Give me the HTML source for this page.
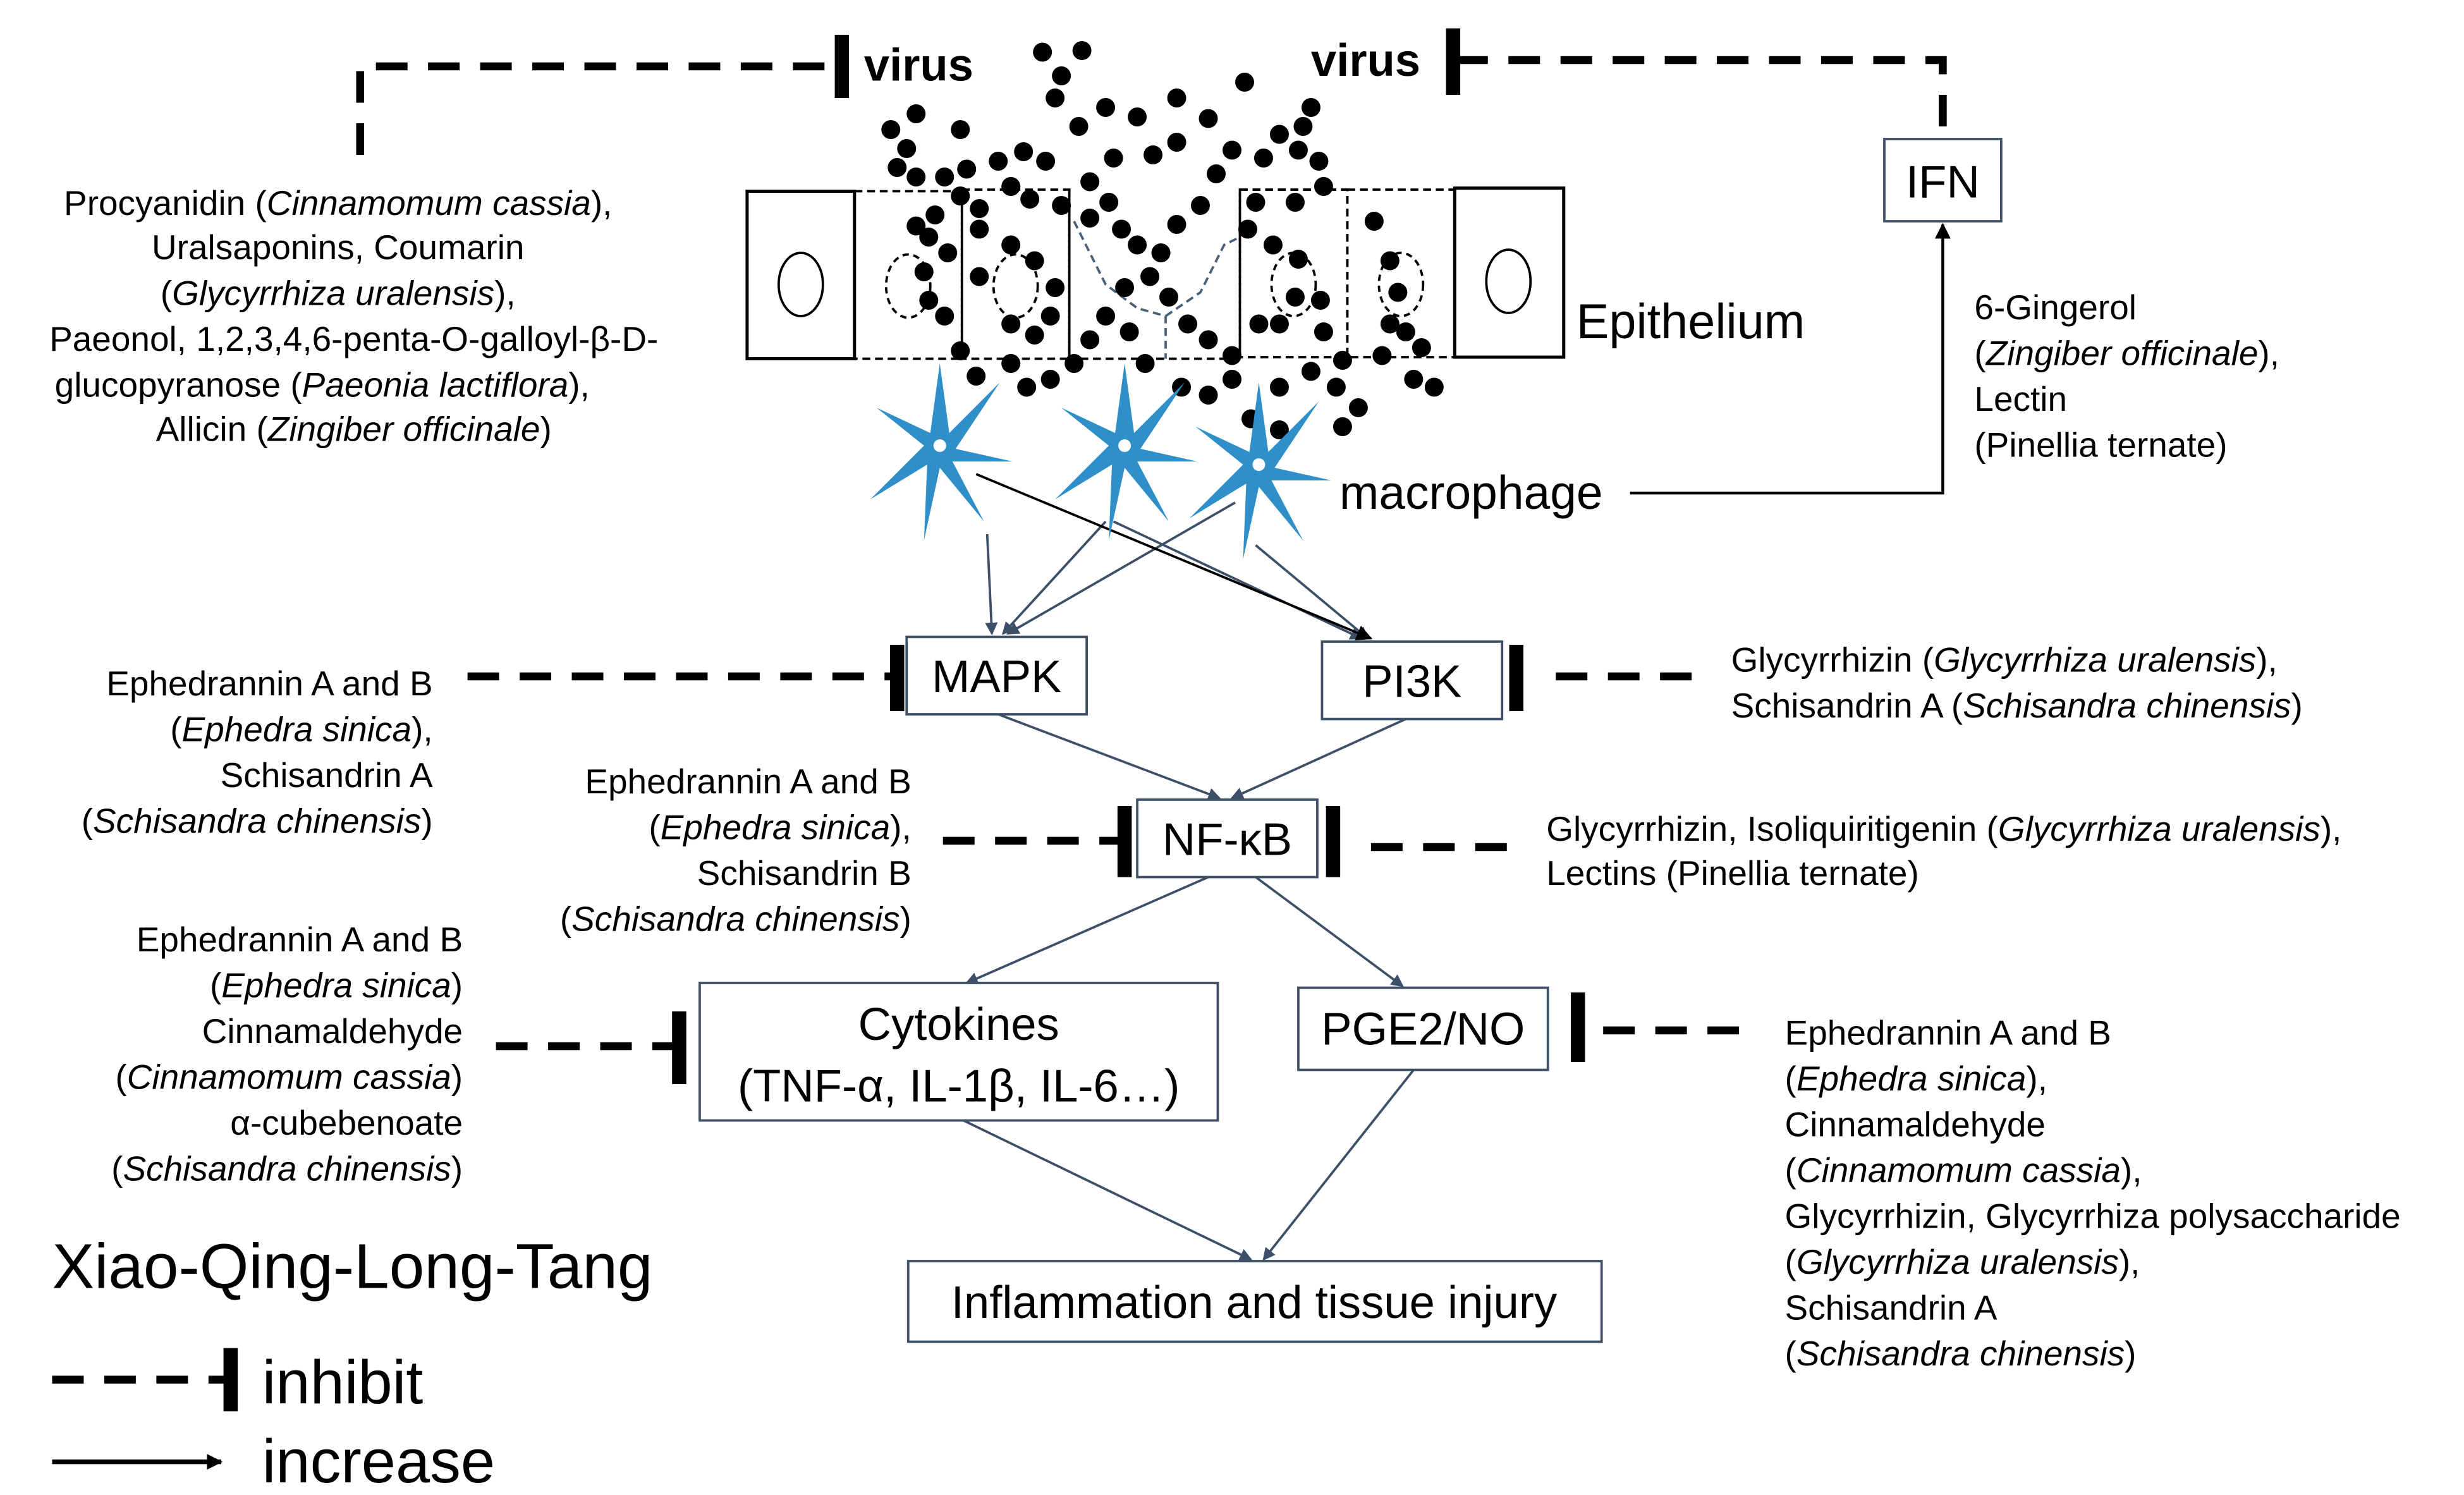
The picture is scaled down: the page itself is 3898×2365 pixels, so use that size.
<!DOCTYPE html>
<html><head><meta charset="utf-8"><style>
html,body{margin:0;padding:0;background:#fff;}
svg{display:block;}
text{font-family:"Liberation Sans",sans-serif;fill:#000;}
</style></head><body>
<svg width="3898" height="2365" viewBox="0 0 1560 946" preserveAspectRatio="none" xmlns="http://www.w3.org/2000/svg">
<defs>
<marker id="ah" markerWidth="8" markerHeight="8" refX="7" refY="4" orient="auto" markerUnits="userSpaceOnUse"><path d="M0,0 L8,4 L0,8 Z" fill="#3d5068"/></marker>
<marker id="ak" markerWidth="10" markerHeight="10" refX="9" refY="5" orient="auto" markerUnits="userSpaceOnUse"><path d="M0,0 L10,5 L0,10 Z" fill="#000"/></marker>
<g id="star">
<path d="M0,-52 L6,-8 L38,-40 L10,2 L46,10 L8,10 L28,48 L0,14 L-10,60 L-8,12 L-44,34 L-10,0 L-40,-24 L-6,-8 Z" fill="#2e8fc9"/>
<circle r="4" fill="#fff"/>
</g>
</defs>
<g stroke="#000" stroke-width="5" fill="none" stroke-dasharray="20,13">
<path d="M228,98 L228,42 L530,42"/>
<path d="M922,38 L1230,38 L1230,90"/>
<path d="M296,428 L565,428"/>
<path d="M985,428 L1080,428"/>
<path d="M597,532 L712,532"/>
<path d="M868,536 L962,536"/>
<path d="M314,662 L428,662"/>
<path d="M1015,652 L1110,652"/>
<path d="M33,873 L142,873"/>
</g>
<g stroke="#000" stroke-width="9">
<line x1="533" y1="22" x2="533" y2="62"/>
<line x1="920" y1="18" x2="920" y2="60"/>
<line x1="568" y1="408" x2="568" y2="450"/>
<line x1="960" y1="408" x2="960" y2="450"/>
<line x1="712" y1="510" x2="712" y2="555"/>
<line x1="844" y1="510" x2="844" y2="555"/>
<line x1="430" y1="640" x2="430" y2="686"/>
<line x1="999" y1="628" x2="999" y2="672"/>
<line x1="146" y1="853" x2="146" y2="893"/>
</g>
<text x="547" y="51" font-size="29" font-weight="bold">virus</text>
<text x="830" y="48" font-size="29" font-weight="bold">virus</text>
<g fill="none" stroke="#000">
<rect x="473" y="121" width="68" height="106" stroke-width="2"/>
<rect x="921" y="119" width="69" height="107" stroke-width="2"/>
<g stroke-dasharray="5,3" stroke-width="1.5">
<rect x="541" y="121" width="68" height="106"/>
<rect x="609" y="120" width="68" height="107"/>
<path d="M677,210 L677,227 L785,227 L785,120 L853,120 L853,226 L921,226 L921,119"/>
<path d="M853,120 L921,120"/>
<rect x="785" y="120" width="68" height="106"/>
<path d="M677,120 L677,227" />
</g>
<ellipse cx="507" cy="180" rx="14" ry="20" stroke-width="1.5"/>
<ellipse cx="955" cy="178" rx="14" ry="20" stroke-width="1.5"/>
<g stroke-dasharray="4,3" stroke-width="1.5">
<ellipse cx="575" cy="181" rx="14" ry="20"/>
<ellipse cx="643" cy="181" rx="14" ry="20"/>
<ellipse cx="819" cy="180" rx="14" ry="20"/>
<ellipse cx="887" cy="180" rx="14" ry="20"/>
</g>
<path d="M680,140 L700,180 L720,195 L738,200 L738,227" stroke="#4a5f78" stroke-dasharray="5,3" stroke-width="1.5"/>
<path d="M738,200 L760,185 L775,155 L785,150" stroke="#4a5f78" stroke-dasharray="5,3" stroke-width="1.5"/>
</g>
<text x="998" y="214" font-size="31">Epithelium</text>
<g fill="#000">
<circle cx="660" cy="33" r="6"/><circle cx="685" cy="32" r="6"/><circle cx="672" cy="48" r="6"/><circle cx="668" cy="62" r="6"/><circle cx="580" cy="72" r="6"/><circle cx="564" cy="82" r="6"/><circle cx="574" cy="94" r="6"/><circle cx="568" cy="106" r="6"/><circle cx="580" cy="112" r="6"/><circle cx="608" cy="82" r="6"/><circle cx="683" cy="80" r="6"/><circle cx="700" cy="68" r="6"/><circle cx="720" cy="74" r="6"/><circle cx="745" cy="62" r="6"/><circle cx="765" cy="75" r="6"/><circle cx="788" cy="52" r="6"/><circle cx="745" cy="90" r="6"/><circle cx="730" cy="98" r="6"/><circle cx="705" cy="100" r="6"/><circle cx="690" cy="115" r="6"/><circle cx="662" cy="102" r="6"/><circle cx="648" cy="96" r="6"/><circle cx="632" cy="102" r="6"/><circle cx="612" cy="107" r="6"/><circle cx="598" cy="112" r="6"/><circle cx="608" cy="124" r="6"/><circle cx="620" cy="132" r="6"/><circle cx="640" cy="118" r="6"/><circle cx="652" cy="126" r="6"/><circle cx="672" cy="130" r="6"/><circle cx="690" cy="138" r="6"/><circle cx="702" cy="128" r="6"/><circle cx="710" cy="145" r="6"/><circle cx="720" cy="155" r="6"/><circle cx="735" cy="160" r="6"/><circle cx="745" cy="142" r="6"/><circle cx="760" cy="130" r="6"/><circle cx="770" cy="110" r="6"/><circle cx="780" cy="95" r="6"/><circle cx="800" cy="100" r="6"/><circle cx="810" cy="85" r="6"/><circle cx="825" cy="80" r="6"/><circle cx="830" cy="68" r="6"/><circle cx="822" cy="95" r="6"/><circle cx="835" cy="102" r="6"/><circle cx="838" cy="118" r="6"/><circle cx="820" cy="128" r="6"/><circle cx="795" cy="128" r="6"/><circle cx="790" cy="145" r="6"/><circle cx="806" cy="155" r="6"/><circle cx="822" cy="164" r="6"/><circle cx="820" cy="188" r="6"/><circle cx="836" cy="190" r="6"/><circle cx="838" cy="210" r="6"/><circle cx="850" cy="228" r="6"/><circle cx="846" cy="245" r="6"/><circle cx="860" cy="258" r="6"/><circle cx="850" cy="270" r="6"/><circle cx="810" cy="272" r="6"/><circle cx="792" cy="265" r="6"/><circle cx="810" cy="245" r="6"/><circle cx="780" cy="240" r="6"/><circle cx="765" cy="215" r="6"/><circle cx="752" cy="205" r="6"/><circle cx="740" cy="188" r="6"/><circle cx="728" cy="175" r="6"/><circle cx="712" cy="182" r="6"/><circle cx="700" cy="200" r="6"/><circle cx="690" cy="215" r="6"/><circle cx="680" cy="230" r="6"/><circle cx="665" cy="240" r="6"/><circle cx="650" cy="245" r="6"/><circle cx="640" cy="230" r="6"/><circle cx="618" cy="238" r="6"/><circle cx="608" cy="222" r="6"/><circle cx="598" cy="200" r="6"/><circle cx="585" cy="172" r="6"/><circle cx="588" cy="150" r="6"/><circle cx="592" cy="136" r="6"/><circle cx="580" cy="143" r="6"/><circle cx="588" cy="190" r="6"/><circle cx="600" cy="160" r="6"/><circle cx="620" cy="175" r="6"/><circle cx="620" cy="145" r="6"/><circle cx="640" cy="155" r="6"/><circle cx="655" cy="165" r="6"/><circle cx="668" cy="182" r="6"/><circle cx="665" cy="200" r="6"/><circle cx="655" cy="212" r="6"/><circle cx="640" cy="205" r="6"/><circle cx="715" cy="210" r="6"/><circle cx="725" cy="230" r="6"/><circle cx="748" cy="245" r="6"/><circle cx="765" cy="250" r="6"/><circle cx="780" cy="225" r="6"/><circle cx="797" cy="205" r="6"/><circle cx="810" cy="205" r="6"/><circle cx="830" cy="235" r="6"/><circle cx="870" cy="140" r="6"/><circle cx="880" cy="165" r="6"/><circle cx="885" cy="185" r="6"/><circle cx="880" cy="205" r="6"/><circle cx="875" cy="225" r="6"/><circle cx="900" cy="220" r="6"/><circle cx="908" cy="245" r="6"/><circle cx="895" cy="240" r="6"/><circle cx="890" cy="210" r="6"/>
</g>
<g stroke="#3d5068" stroke-width="1.5" fill="none" marker-end="url(#ah)">
<line x1="625" y1="338" x2="628" y2="401"/>
<line x1="700" y1="330" x2="635" y2="401"/>
<line x1="705" y1="330" x2="862" y2="404"/>
<line x1="782" y1="318" x2="638" y2="401"/>
<line x1="795" y1="345" x2="866" y2="404"/>
<line x1="632" y1="452" x2="772" y2="505"/>
<line x1="890" y1="455" x2="780" y2="505"/>
<line x1="765" y1="555" x2="612" y2="622"/>
<line x1="795" y1="555" x2="888" y2="624"/>
<line x1="610" y1="709" x2="792" y2="797"/>
<line x1="895" y1="677" x2="800" y2="797"/>
</g>
<line x1="618" y1="300" x2="868" y2="404" stroke="#000" stroke-width="1.5" marker-end="url(#ak)"/>
<use href="#star" x="595" y="282"/>
<use href="#star" x="712" y="282"/>
<use href="#star" x="797" y="294"/>
<text x="848" y="322" font-size="30">macrophage</text>
<polyline points="1032,312 1230,312 1230,142" fill="none" stroke="#000" stroke-width="1.8" marker-end="url(#ak)"/>
<g fill="#fff" stroke="#3d5068" stroke-width="1.5">
<rect x="1193" y="88" width="74" height="52"/>
<rect x="574" y="403" width="114" height="49"/>
<rect x="837" y="406" width="114" height="49"/>
<rect x="720" y="506" width="114" height="49"/>
<rect x="443" y="622" width="328" height="87"/>
<rect x="822" y="625" width="158" height="52"/>
<rect x="575" y="798" width="439" height="51"/>
</g>
<g font-size="29" text-anchor="middle">
<text x="1230" y="125">IFN</text>
<text x="631" y="438">MAPK</text>
<text x="894" y="441">PI3K</text>
<text x="777" y="541">NF-κB</text>
<text x="607" y="658">Cytokines</text>
<text x="607" y="697">(TNF-α, IL-1β, IL-6…)</text>
<text x="901" y="661">PGE2/NO</text>
<text x="794" y="834">Inflammation and tissue injury</text>
</g>
<g font-size="22" text-anchor="middle">
<text x="214" y="136">Procyanidin (<tspan font-style="italic">Cinnamomum cassia</tspan>),</text>
<text x="214" y="164">Uralsaponins, Coumarin</text>
<text x="214" y="193">(<tspan font-style="italic">Glycyrrhiza uralensis</tspan>),</text>
<text x="224" y="222">Paeonol, 1,2,3,4,6-penta-O-galloyl-β-D-</text>
<text x="204" y="251">glucopyranose (<tspan font-style="italic">Paeonia lactiflora</tspan>),</text>
<text x="224" y="279">Allicin (<tspan font-style="italic">Zingiber officinale</tspan>)</text>
</g>
<g font-size="22">
<text x="1250" y="202">6-Gingerol</text>
<text x="1250" y="231">(<tspan font-style="italic">Zingiber officinale</tspan>),</text>
<text x="1250" y="260">Lectin</text>
<text x="1250" y="289">(Pinellia ternate)</text>
<text x="1096" y="425">Glycyrrhizin (<tspan font-style="italic">Glycyrrhiza uralensis</tspan>),</text>
<text x="1096" y="454">Schisandrin A (<tspan font-style="italic">Schisandra chinensis</tspan>)</text>
<text x="979" y="532">Glycyrrhizin, Isoliquiritigenin (<tspan font-style="italic">Glycyrrhiza uralensis</tspan>),</text>
<text x="979" y="560">Lectins (Pinellia ternate)</text>
<text x="1130" y="661">Ephedrannin A and B</text>
<text x="1130" y="690">(<tspan font-style="italic">Ephedra sinica</tspan>),</text>
<text x="1130" y="719">Cinnamaldehyde</text>
<text x="1130" y="748">(<tspan font-style="italic">Cinnamomum cassia</tspan>),</text>
<text x="1130" y="777">Glycyrrhizin, Glycyrrhiza polysaccharide</text>
<text x="1130" y="806">(<tspan font-style="italic">Glycyrrhiza uralensis</tspan>),</text>
<text x="1130" y="835">Schisandrin A</text>
<text x="1130" y="864">(<tspan font-style="italic">Schisandra chinensis</tspan>)</text>
</g>
<g font-size="22" text-anchor="end">
<text x="274" y="440">Ephedrannin A and B</text>
<text x="274" y="469">(<tspan font-style="italic">Ephedra sinica</tspan>),</text>
<text x="274" y="498">Schisandrin A</text>
<text x="274" y="527">(<tspan font-style="italic">Schisandra chinensis</tspan>)</text>
<text x="577" y="502">Ephedrannin A and B</text>
<text x="577" y="531">(<tspan font-style="italic">Ephedra sinica</tspan>),</text>
<text x="577" y="560">Schisandrin B</text>
<text x="577" y="589">(<tspan font-style="italic">Schisandra chinensis</tspan>)</text>
<text x="293" y="602">Ephedrannin A and B</text>
<text x="293" y="631">(<tspan font-style="italic">Ephedra sinica</tspan>)</text>
<text x="293" y="660">Cinnamaldehyde</text>
<text x="293" y="689">(<tspan font-style="italic">Cinnamomum cassia</tspan>)</text>
<text x="293" y="718">α-cubebenoate</text>
<text x="293" y="747">(<tspan font-style="italic">Schisandra chinensis</tspan>)</text>
</g>
<text x="33" y="815" font-size="40">Xiao-Qing-Long-Tang</text>
<text x="166" y="888" font-size="39">inhibit</text>
<line x1="33" y1="925" x2="140" y2="925" stroke="#000" stroke-width="3" marker-end="url(#ak)"/>
<text x="166" y="938" font-size="39">increase</text>
</svg>
</body></html>
